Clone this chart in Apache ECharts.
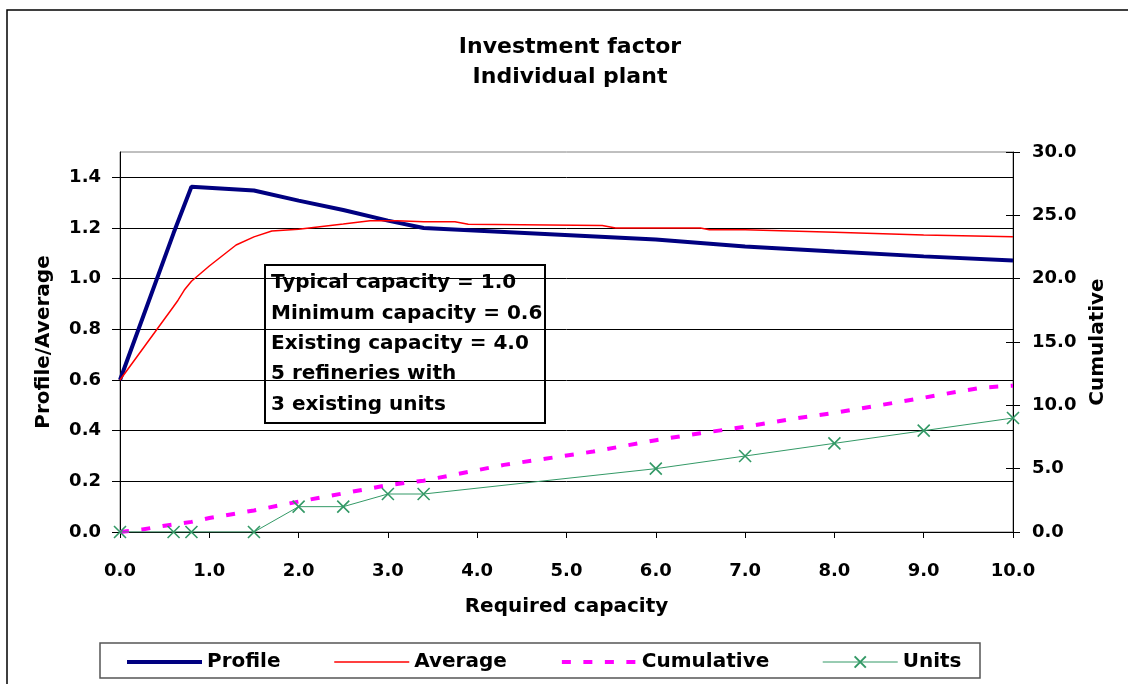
<!DOCTYPE html>
<html>
<head>
<meta charset="utf-8">
<script src="https://cdn.jsdelivr.net/npm/echarts@6/dist/echarts.min.js"></script>
<style>
  html, body { margin: 0; padding: 0; background: #fff; }
  #chart { width: 1128px; height: 684px; }
</style>
</head>
<body>
<div id="chart"></div>
<script>
// Required capacity (x) for the profile and unit-count series
const capacityX = [0, 0.6, 0.8, 1.5, 2.0, 2.5, 3.0, 3.4, 6.0, 7.0, 8.0, 9.0, 10.0];
// Investment factor profile (left axis)
const profileY = [0.60, 1.18, 1.363, 1.348, 1.308, 1.271, 1.229, 1.200, 1.155, 1.127, 1.107, 1.088, 1.072];
// Number of units built (right axis)
const unitsY = [0, 0, 0, 0, 2, 2, 3, 3, 5, 6, 7, 8, 9];

// Running average of the investment factor (left axis)
const averageX = [0, 0.6, 0.65, 0.72, 0.8, 1.0, 1.3, 1.5, 1.7, 2.0, 2.5, 2.8, 3.1, 3.4, 3.75, 3.9, 5.4, 5.55, 6.5, 6.6, 7.0, 8.0, 9.0, 10.0];
const averageY = [0.60, 0.89, 0.915, 0.955, 0.99, 1.05, 1.133, 1.165, 1.188, 1.195, 1.216, 1.229, 1.229, 1.225, 1.225, 1.215, 1.21, 1.20, 1.20, 1.193, 1.193, 1.183, 1.172, 1.165];

// Cumulative investment (right axis)
const cumulativeX = [0, 0.25, 0.5, 0.6, 0.8, 1.0, 1.5, 1.75, 2.0, 2.5, 3.0, 3.4, 4.3, 5.3, 6.0, 6.5, 7.0, 7.5, 8.0, 8.5, 9.0, 9.4, 9.65, 10.0];
const cumulativeY = [0, 0.2, 0.5, 0.6, 0.8, 1.1, 1.7, 2.05, 2.4, 3.05, 3.7, 4.05, 5.3, 6.35, 7.25, 7.8, 8.3, 8.9, 9.4, 10.0, 10.6, 11.1, 11.4, 11.55];

// Tick values
const leftTicks = [0, 0.2, 0.4, 0.6, 0.8, 1.0, 1.2, 1.4];

const noteLines = [
  'Typical capacity = 1.0',
  'Minimum capacity = 0.6',
  'Existing capacity = 4.0',
  '5 refineries with',
  '3 existing units'
];

const FONT = 'DejaVu Sans';
const zip = (xs, ys) => xs.map((x, i) => [x, ys[i]]);
const fmt1 = v => v.toFixed(1);

const chart = echarts.init(document.getElementById('chart'), null, { renderer: 'canvas' });

const labelStyle = { color: '#000', fontFamily: FONT, fontWeight: 'bold', fontSize: 18 };
const nameStyle = { color: '#000', fontFamily: FONT, fontWeight: 'bold', fontSize: 20 };

chart.setOption({
  animation: false,
  backgroundColor: '#fff',
  title: {
    text: 'Investment factor\nIndividual plant',
    left: 570,
    top: 32,
    padding: 0,
    textAlign: 'center',
    textStyle: { color: '#000', fontFamily: FONT, fontWeight: 'bold', fontSize: 22, lineHeight: 30 }
  },
  grid: {
    left: 120, top: 152, right: 115, bottom: 152,
    show: true, borderColor: '#808080', borderWidth: 1, backgroundColor: '#fff'
  },
  legend: {
    left: 125,
    top: 652,
    padding: 0,
    itemWidth: 75,
    itemHeight: 14,
    itemGap: 53,
    textStyle: { color: '#000', fontFamily: FONT, fontWeight: 'bold', fontSize: 20 },
    data: [
      { name: 'Profile', itemStyle: { opacity: 0 }, lineStyle: { width: 4 } },
      { name: 'Average', itemStyle: { opacity: 0 }, lineStyle: { width: 1.5 } },
      { name: 'Cumulative', itemStyle: { opacity: 0 }, lineStyle: { width: 4 } },
      { name: 'Units', lineStyle: { width: 1 } }
    ]
  },
  xAxis: {
    type: 'value',
    min: 0, max: 10, interval: 1,
    name: 'Required capacity',
    nameLocation: 'middle',
    nameGap: 65,
    nameTextStyle: nameStyle,
    axisLine: { lineStyle: { color: '#000', width: 1 } },
    axisTick: { show: true, inside: false, length: 6, lineStyle: { color: '#000' } },
    axisLabel: Object.assign({ formatter: fmt1, margin: 30 }, labelStyle),
    splitLine: { show: false }
  },
  yAxis: [
    {
      type: 'value',
      position: 'left',
      min: 0, max: 1.5, interval: 0.2,
      name: 'Profile/Average',
      nameLocation: 'middle',
      nameGap: 66,
      nameTextStyle: nameStyle,
      axisLine: { show: true, lineStyle: { color: '#000', width: 1 } },
      axisTick: { show: true, inside: false, length: 8, lineStyle: { color: '#000' }, customValues: leftTicks },
      axisLabel: Object.assign({
        margin: 19,
        formatter: v => (v > 1.45 ? '' : fmt1(v))
      }, labelStyle),
      splitLine: { show: true, lineStyle: { color: '#000', width: 1 } }
    },
    {
      type: 'value',
      position: 'right',
      min: 0, max: 30, interval: 5,
      name: 'Cumulative',
      nameLocation: 'middle',
      nameGap: 75,
      nameTextStyle: nameStyle,
      axisLine: { show: true, lineStyle: { color: '#000', width: 1 } },
      axisTick: { show: true, inside: false, length: 7, lineStyle: { color: '#000' } },
      axisLabel: Object.assign({ margin: 19, formatter: fmt1 }, labelStyle),
      splitLine: { show: false }
    },
    {
      // inner half of the crossing ticks on the right axis
      type: 'value',
      position: 'right',
      min: 0, max: 30, interval: 5,
      axisLine: { show: false },
      axisTick: { show: true, inside: true, length: 7, lineStyle: { color: '#000' } },
      axisLabel: { show: false },
      splitLine: { show: false }
    }
  ],
  graphic: [
    {
      // outer chart frame
      type: 'rect',
      shape: { x: 7, y: 10, width: 1300, height: 900 },
      style: { fill: 'none', stroke: '#000', lineWidth: 1.5 },
      z: 0, silent: true
    },
    {
      // legend frame
      type: 'rect',
      shape: { x: 100, y: 643, width: 880, height: 35 },
      style: { fill: '#fff', stroke: '#555', lineWidth: 1.5 },
      z: -1, silent: true
    },
    {
      type: 'group',
      z: 50,
      children: [
        {
          type: 'rect',
          shape: { x: 265, y: 265, width: 280, height: 158 },
          style: { fill: '#fff', stroke: '#000', lineWidth: 2 }
        },
        {
          type: 'text',
          x: 271,
          y: 268,
          style: {
            text: noteLines.join('\n'),
            fill: '#000',
            fontFamily: FONT,
            fontWeight: 'bold',
            fontSize: 20,
            lineHeight: 30.3,
            align: 'left',
            verticalAlign: 'top'
          }
        }
      ]
    }
  ],
  series: [
    {
      name: 'Profile',
      type: 'line',
      yAxisIndex: 0,
      data: zip(capacityX, profileY),
      symbol: 'none',
      lineStyle: { color: '#000080', width: 4 },
      itemStyle: { color: '#000080' },
      z: 3
    },
    {
      name: 'Average',
      type: 'line',
      yAxisIndex: 0,
      data: zip(averageX, averageY),
      symbol: 'none',
      lineStyle: { color: '#ff0000', width: 1.5 },
      itemStyle: { color: '#ff0000' },
      z: 4
    },
    {
      name: 'Cumulative',
      type: 'line',
      yAxisIndex: 1,
      data: zip(cumulativeX, cumulativeY),
      symbol: 'none',
      lineStyle: { color: '#ff00ff', width: 4, type: [9, 12.5], cap: 'butt' },
      itemStyle: { color: '#ff00ff' },
      z: 5
    },
    {
      name: 'Units',
      type: 'line',
      yAxisIndex: 1,
      data: zip(capacityX, unitsY),
      symbol: 'path://M0,0L10,10M0,10L10,0',
      symbolSize: 12,
      lineStyle: { color: '#339966', width: 1 },
      itemStyle: { color: 'rgba(0,0,0,0)', borderColor: '#339966', borderWidth: 1.6 },
      z: 6
    }
  ]
});
</script>
</body>
</html>
